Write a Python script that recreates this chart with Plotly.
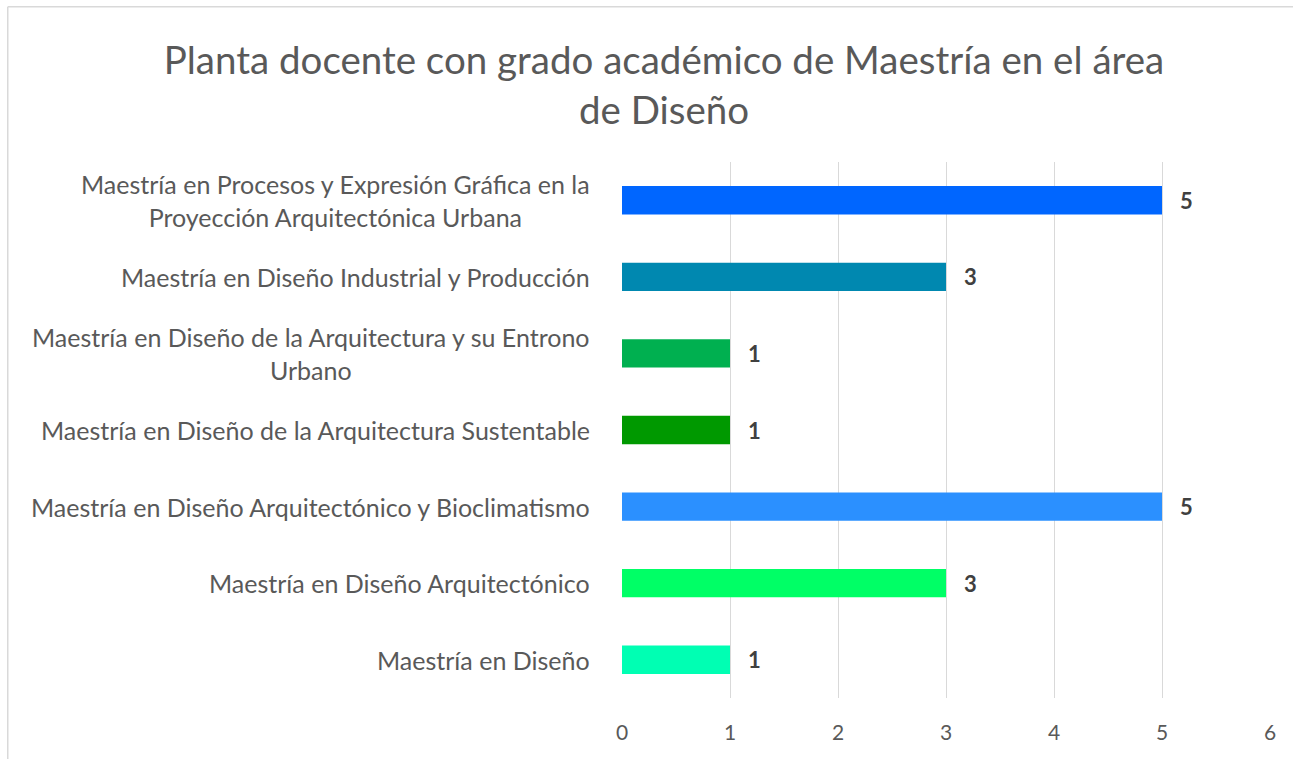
import plotly.graph_objects as go

categories = [
    "Maestría en Procesos y Expresión Gráfica en la<br>Proyección Arquitectónica Urbana",
    "Maestría en Diseño Industrial y Producción",
    "Maestría en Diseño de la Arquitectura y su Entrono<br>Urbano",
    "Maestría en Diseño de la Arquitectura Sustentable",
    "Maestría en Diseño Arquitectónico y Bioclimatismo",
    "Maestría en Diseño Arquitectónico",
    "Maestría en Diseño",
]
values = [5, 3, 1, 1, 5, 3, 1]
colors = ["#0066FF", "#0088B0", "#00B050", "#009900", "#2B90FF", "#00FF66", "#00FFB3"]
x_ticks = [0, 1, 2, 3, 4, 5, 6]

FONT = "Lato"
TXT = "#595959"

W, H = 1293, 759
L, T = 622, 162
R = W - 1270
B = H - 698
pw, ph = W - L - R, H - T - B

fig = go.Figure()
fig.add_trace(go.Bar(
    x=values, y=categories, orientation="h",
    marker=dict(color=colors, line=dict(width=0)),
    hoverinfo="x+y",
))

annotations = []
for c, v in zip(categories, values):
    annotations.append(dict(
        x=0, y=c, xref="paper", yref="y", text=c, showarrow=False,
        xanchor="right", yanchor="middle", align="center", xshift=-30,
        font=dict(family=FONT, size=25, color=TXT),
    ))
    annotations.append(dict(
        x=v, y=c, xref="x", yref="y", text=str(v), showarrow=False,
        xanchor="left", yanchor="middle", xshift=16,
        font=dict(family=FONT, size=22, color="#404040", weight="bold"),
    ))

def px_x(p):
    return (p - L) / pw

def px_y(p):
    return 1 - (p - T) / ph

border = dict(color="#D9D9D9", width=1.5)
fig.update_layout(
    width=W, height=H,
    margin=dict(l=L, r=R, t=T, b=B, pad=0, autoexpand=False),
    paper_bgcolor="white", plot_bgcolor="white",
    showlegend=False,
    bargap=0.63,
    title=dict(
        text="Planta docente con grado académico de Maestría en el área<br>de Diseño",
        x=664 / W, xanchor="center", y=1 - 74 / H, yanchor="middle",
        font=dict(family=FONT, size=38.5, color=TXT),
    ),
    xaxis=dict(
        range=[0, 6], tickvals=x_ticks, showgrid=True, gridcolor="#D9D9D9", gridwidth=1,
        zeroline=False, showline=False, ticks="", automargin=False,
        tickfont=dict(family=FONT, size=21, color=TXT),
        ticklabelstandoff=20, fixedrange=True,
    ),
    yaxis=dict(
        categoryorder="array", categoryarray=categories, autorange="reversed",
        showticklabels=False, showgrid=False, zeroline=False, showline=False, ticks="",
        fixedrange=True, automargin=False,
    ),
    annotations=annotations,
    shapes=[
        dict(type="line", xref="paper", yref="paper",
             x0=px_x(7.75), x1=px_x(7.75), y0=px_y(900), y1=px_y(6.75),
             line=border, layer="below"),
        dict(type="line", xref="paper", yref="paper",
             x0=px_x(7.75), x1=px_x(1400), y0=px_y(6.75), y1=px_y(6.75),
             line=border, layer="below"),
    ],
)

fig.write_html(
    "out.html",
    config={"displayModeBar": False},
    post_script="document.body.style.margin='0';document.body.style.overflow='hidden';",
)
